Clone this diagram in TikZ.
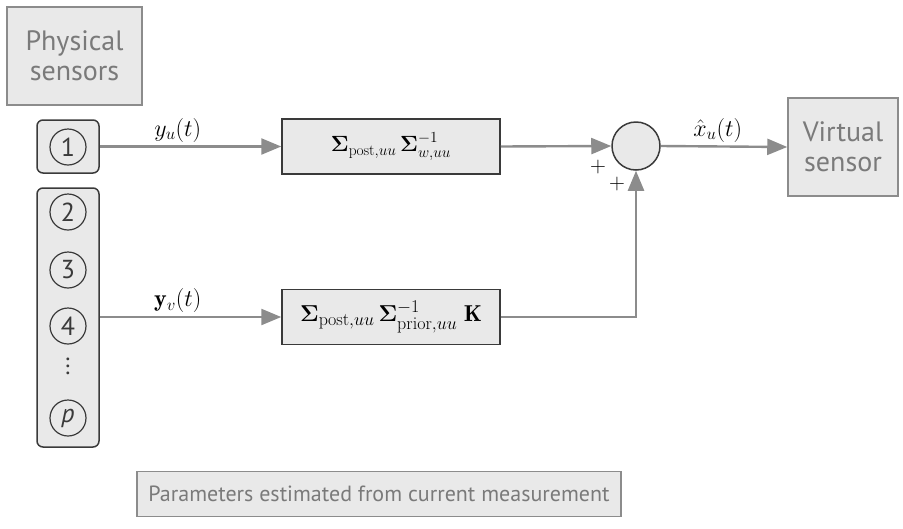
\documentclass[tikz,border=0pt]{standalone}
\usepackage{fix-cm}
\usepackage{amsmath}
\DeclareMathSizes{23}{23}{18}{13}
\usepackage{fontspec}
\newfontfamily\labelfont{PT Sans}
\usetikzlibrary{arrows.meta}
\definecolor{boxfill}{HTML}{E9E9E9}
\definecolor{linegray}{HTML}{8C8C8C}
\definecolor{textgray}{HTML}{7A7A7A}
\definecolor{darkedge}{HTML}{3A3A3A}
\tikzset{
  lightbox/.style={draw=linegray, fill=boxfill, line width=1.5pt, align=center,
    font=\labelfont\fontsize{28}{32}\selectfont, text=textgray, inner sep=0pt},
  sensbox/.style={draw=darkedge, fill=boxfill, line width=1.5pt, rounded corners=6pt, inner sep=0pt},
  numcirc/.style={circle, draw=darkedge, line width=1.2pt, minimum size=36pt, inner sep=0pt,
    font=\labelfont\fontsize{26}{30}\selectfont, text=darkedge},
  mathbox/.style={draw=darkedge, fill=boxfill, line width=1.5pt, inner sep=0pt,
    font=\fontsize{22}{26}\selectfont},
  sumcirc/.style={circle, draw=darkedge, fill=boxfill, line width=1.5pt, minimum size=48pt, inner sep=0pt},
  conn/.style={draw=linegray, line width=2.4pt, -{Triangle[length=20pt,width=16pt]}},
  siglabel/.style={font=\fontsize{24}{28}\selectfont, inner sep=3pt},
  plus/.style={font=\fontsize{22}{26}\selectfont, inner sep=0pt}
}
\begin{document}
\begin{tikzpicture}[x=1pt, y=-1pt]
\useasboundingbox (0,0) rectangle (903,528);
% physical sensors label
\node[lightbox, minimum width=135pt, minimum height=98pt] (phys) at (74.5,56) {Physical\\[-2pt]sensors};
% sensor boxes
\node[sensbox, minimum width=62pt, minimum height=53pt] (sens1) at (68,146.5) {};
\node[numcirc] (c1) at (68,147) {1};
\node[sensbox, minimum width=62pt, minimum height=259pt] (group) at (68,317.5) {};
\node[numcirc] (c2) at (68,212) {2};
\node[numcirc] (c3) at (68,270) {3};
\node[numcirc] (c4) at (68,326) {4};
\node[font=\labelfont\fontsize{24}{28}\selectfont, text=darkedge, inner sep=0pt] (dots) at (68,366)
  {\vbox{\baselineskip=7pt\lineskiplimit=-20pt\hbox{.}\hbox{.}\hbox{.}}};
\node[numcirc] (cp) at (68,418) {\textit{p}};
% processing boxes
\node[mathbox, minimum width=218pt, minimum height=55pt] (box1) at (391,146.5)
  {$\boldsymbol{\Sigma}_{\mathrm{post},uu}\,\boldsymbol{\Sigma}_{w,uu}^{-1}$};
\node[mathbox, minimum width=218pt, minimum height=55pt, font=\fontsize{23}{27}\selectfont] (box2) at (391,317)
  {$\boldsymbol{\Sigma}_{\mathrm{post},uu}\,\boldsymbol{\Sigma}_{\mathrm{prior},uu}^{-1}\;\mathbf{K}$};
% summing junction
\node[sumcirc] (sum) at (636,146) {};
\node[plus] (p1) at (598,167) {$+$};
\node[plus] (p2) at (617,184) {$+$};
% virtual sensor
\node[lightbox, minimum width=110pt, minimum height=98pt] (virt) at (843,147) {Virtual\\[-2pt]sensor};
% bottom note
\node[lightbox, minimum width=484pt, minimum height=45pt, font=\labelfont\fontsize{22}{26}\selectfont] (note) at (379,494)
  {Parameters estimated from current measurement};
% connectors
\draw[conn] (sens1.east) -- node[siglabel, above, pos=0.43] {$y_u(t)$} (box1.west);
\draw[conn] (group.east |- box2.west) -- node[siglabel, above, pos=0.43] {$\mathbf{y}_v(t)$} (box2.west);
\draw[conn] (box1.east) -- (sum.west);
\draw[conn] (box2.east) -| (sum.south);
\draw[conn] (sum.east) -- node[siglabel, above, pos=0.45] {$\hat{x}_u(t)$} (virt.west);
\end{tikzpicture}
\end{document}
